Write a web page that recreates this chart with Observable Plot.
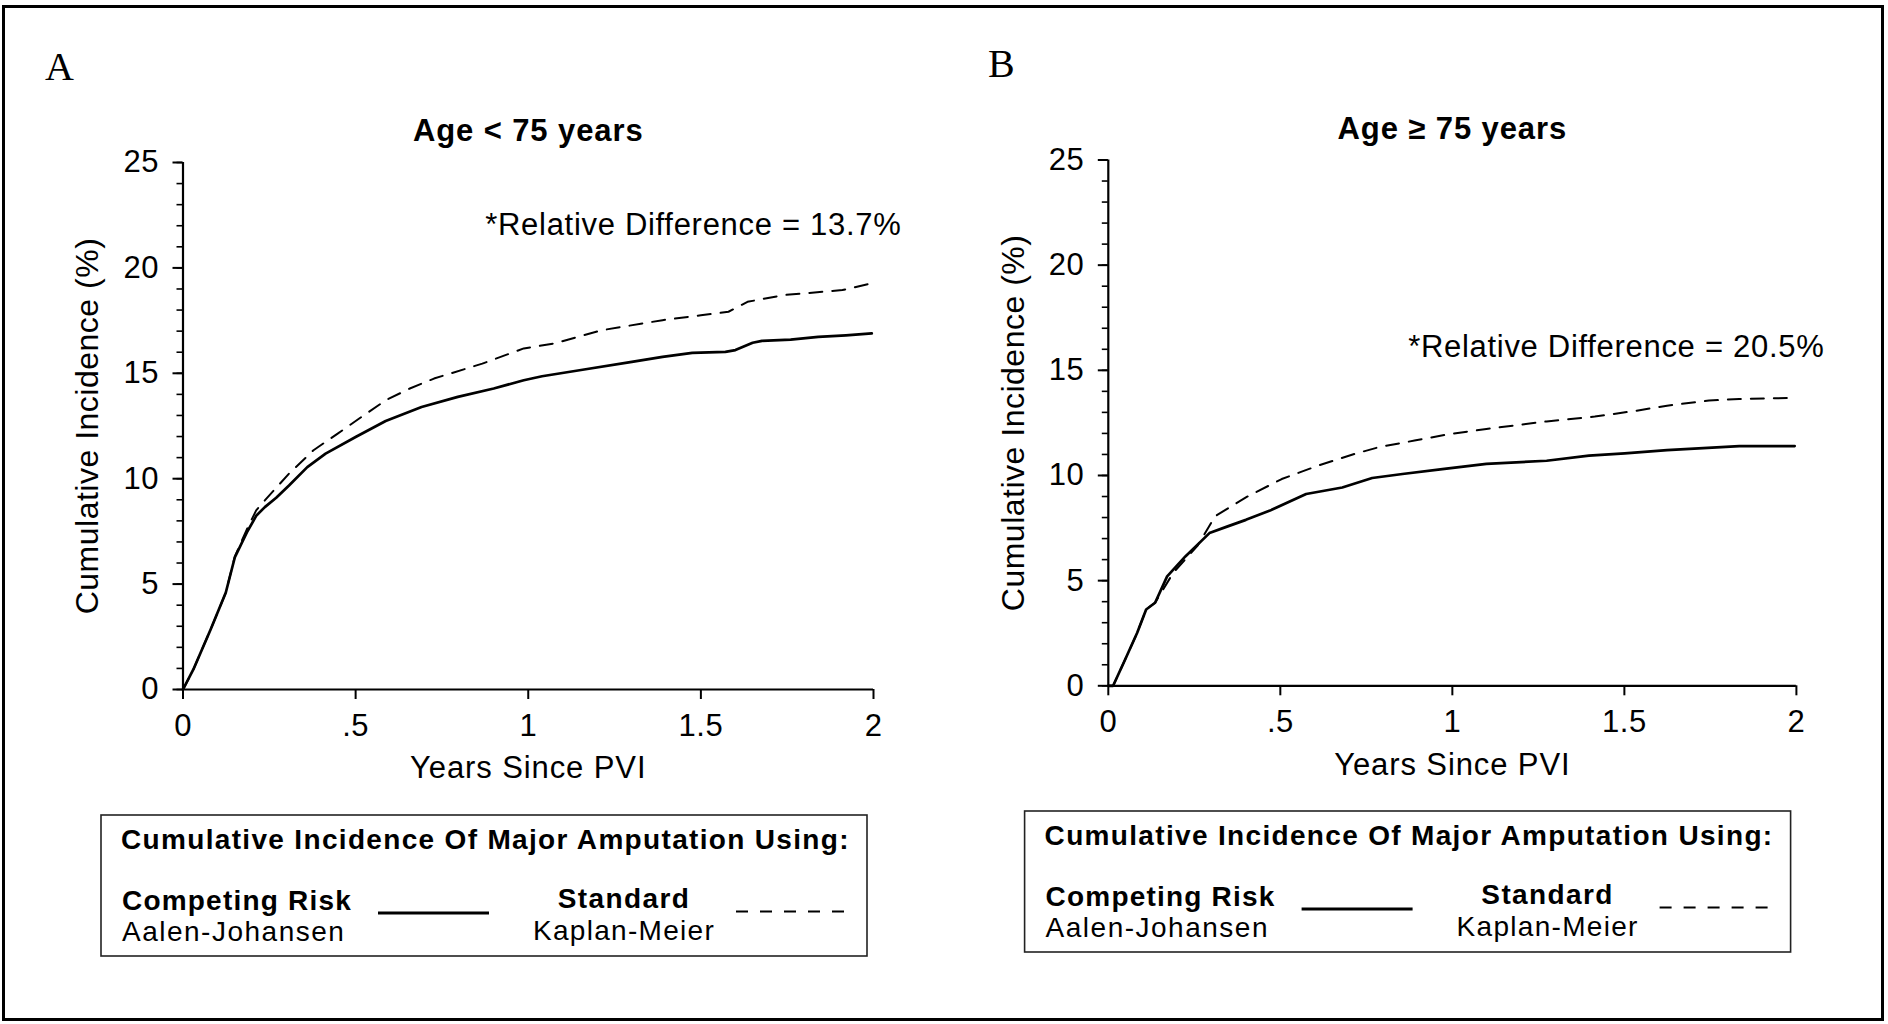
<!DOCTYPE html>
<html>
<head>
<meta charset="utf-8">
<script src="https://cdn.jsdelivr.net/npm/d3@7"></script>
<script src="https://cdn.jsdelivr.net/npm/@observablehq/plot@0.6"></script>
<style>
  html, body { margin: 0; padding: 0; background: #fff; }
  #page { position: relative; width: 1888px; height: 1024px; overflow: hidden; background: #fff; }
  #page svg { position: absolute; }
</style>
</head>
<body>
<div id="page"></div>
<script>
// ---------- text ----------
const panelLetters = ["A", "B"];
const panelTitles = ["Age < 75 years", "Age \u2265 75 years"];
const annotations = ["*Relative Difference = 13.7%", "*Relative Difference = 20.5%"];
const annotationY = [22.05, 16.1];
const xLabel = "Years Since PVI";
const yLabel = "Cumulative Incidence (%)";
const xTicks = [0, 0.5, 1, 1.5, 2];
const xTickLabels = ["0", ".5", "1", "1.5", "2"];
const yMajorTicks = [0, 5, 10, 15, 20, 25];
const yMinorTicks = [0, 1, 2, 3, 4, 5, 6, 7, 8, 9, 10, 11, 12, 13, 14, 15, 16, 17, 18, 19, 20, 21, 22, 23, 24, 25];
const legendTitle = "Cumulative Incidence Of Major Amputation Using:";
const legendBold = ["Competing Risk", "Standard"];
const legendSub = ["Aalen-Johansen", "Kaplan-Meier"];

// ---------- data: Panel A (Age < 75) ----------
const timeA_AJ = [0, 0.03, 0.08, 0.124, 0.15, 0.185, 0.212, 0.237, 0.27, 0.307, 0.36, 0.413, 0.50, 0.587, 0.691, 0.796, 0.90, 0.987, 1.04, 1.162, 1.30, 1.389, 1.475, 1.571, 1.60, 1.65, 1.677, 1.76, 1.84, 1.92, 1.995];
const incA_AJ  = [0, 0.95, 2.85, 4.6, 6.26, 7.45, 8.24, 8.65, 9.1, 9.68, 10.55, 11.19, 11.98, 12.74, 13.40, 13.88, 14.28, 14.67, 14.86, 15.18, 15.54, 15.78, 15.97, 16.02, 16.1, 16.45, 16.54, 16.6, 16.73, 16.8, 16.89];
const timeA_KM = [0, 0.03, 0.08, 0.124, 0.15, 0.185, 0.212, 0.237, 0.307, 0.378, 0.448, 0.517, 0.587, 0.657, 0.727, 0.867, 0.987, 1.076, 1.215, 1.389, 1.50, 1.58, 1.635, 1.74, 1.91, 1.995];
const incA_KM  = [0, 0.95, 2.85, 4.6, 6.3, 7.6, 8.5, 8.97, 10.24, 11.35, 12.14, 12.93, 13.72, 14.28, 14.75, 15.46, 16.18, 16.42, 17.05, 17.52, 17.75, 17.92, 18.39, 18.71, 18.95, 19.27];

// ---------- data: Panel B (Age >= 75) ----------
const timeB_AJ = [0, 0.014, 0.049, 0.084, 0.11, 0.136, 0.171, 0.224, 0.294, 0.347, 0.40, 0.47, 0.575, 0.68, 0.767, 0.855, 0.977, 1.099, 1.274, 1.397, 1.501, 1.624, 1.834, 1.995];
const incB_AJ  = [0, 0, 1.25, 2.52, 3.63, 3.95, 5.2, 6.15, 7.26, 7.58, 7.89, 8.33, 9.12, 9.43, 9.88, 10.07, 10.31, 10.55, 10.70, 10.94, 11.05, 11.21, 11.4, 11.4];
const timeB_KM = [0, 0.014, 0.049, 0.084, 0.11, 0.136, 0.189, 0.259, 0.311, 0.40, 0.504, 0.61, 0.715, 0.785, 0.89, 0.993, 1.099, 1.274, 1.414, 1.536, 1.624, 1.746, 1.834, 1.995];
const incB_KM  = [0, 0, 1.25, 2.52, 3.63, 3.95, 5.38, 6.65, 8.07, 8.96, 9.83, 10.47, 11.02, 11.34, 11.66, 11.97, 12.21, 12.57, 12.80, 13.08, 13.32, 13.56, 13.64, 13.69];

const series = [
  {aj: [timeA_AJ, incA_AJ], km: [timeA_KM, incA_KM]},
  {aj: [timeB_AJ, incB_AJ], km: [timeB_KM, incB_KM]}
];

// ---------- layout ----------
const FONT = '"Liberation Sans", Arial, Helvetica, sans-serif';
const panelLayout = [
  {left: 0,   marginLeft: 182.5, marginRight: 71,   marginTop: 162,   marginBottom: 111},
  {left: 944, marginLeft: 163.8, marginRight: 92.1, marginTop: 159.5, marginBottom: 114.7}
];

const page = document.getElementById("page");
const toRows = ([t, v]) => t.map((d, i) => ({t: d, v: v[i]}));

panelLayout.forEach((L, i) => {
  const aj = toRows(series[i].aj);
  const km = toRows(series[i].km);
  const svg = Plot.plot({
    width: 944,
    height: 800,
    marginLeft: L.marginLeft,
    marginRight: L.marginRight,
    marginTop: L.marginTop,
    marginBottom: L.marginBottom,
    x: {domain: [0, 2]},
    y: {domain: [0, 25]},
    style: {fontFamily: FONT, color: "#000", background: "none", overflow: "visible", letterSpacing: "0.5px"},
    marks: [
      Plot.axisY(yMinorTicks, {tickSize: 6, strokeWidth: 1.6, tickFormat: () => "", label: null}),
      Plot.axisY(yMajorTicks, {tickSize: 10, tickPadding: 14, fontSize: 31, strokeWidth: 2, label: null}),
      Plot.axisX(xTicks, {tickSize: 10, tickPadding: 14, fontSize: 31, strokeWidth: 2, label: null,
        tickFormat: d => xTickLabels[xTicks.indexOf(d)]}),
      Plot.ruleX([0], {strokeWidth: 2.2}),
      Plot.ruleY([0], {strokeWidth: 2.2}),
      Plot.line(km, {x: "t", y: "v", stroke: "#000", strokeWidth: 2, strokeDasharray: "13,10"}),
      Plot.line(aj, {x: "t", y: "v", stroke: "#000", strokeWidth: 2.7}),
      Plot.text([panelTitles[i]], {frameAnchor: "top", lineAnchor: "middle", dy: -31, fontSize: 31, fontWeight: "bold"}),
      Plot.text([yLabel], {frameAnchor: "left", textAnchor: "middle", lineAnchor: "middle", rotate: -90, dx: -95, fontSize: 32}),
      Plot.text([xLabel], {frameAnchor: "bottom", lineAnchor: "middle", dy: 79, fontSize: 31}),
      Plot.text([{x: 2, y: annotationY[i], label: annotations[i]}],
        {x: "x", y: "y", text: "label", textAnchor: "end", lineAnchor: "middle", dx: 28, fontSize: 31})
    ]
  });
  svg.style.left = L.left + "px";
  svg.style.top = "0px";
  page.appendChild(svg);
  const sel = d3.select(svg).selectAll("text");
  sel.filter(function () { return this.textContent === panelTitles[i]; }).attr("letter-spacing", "0.9px");
  sel.filter(function () { return this.textContent === annotations[i]; }).attr("letter-spacing", "0.7px");
  sel.filter(function () { return this.textContent === xLabel; }).attr("letter-spacing", "0.9px");
});

// ---------- overlay: border, panel letters, legends ----------
const overlay = d3.create("svg")
  .attr("width", 1888).attr("height", 1024)
  .style("left", "0px").style("top", "0px")
  .style("pointer-events", "none");

overlay.append("rect")
  .attr("x", 3.5).attr("y", 6.5).attr("width", 1879).attr("height", 1013)
  .attr("fill", "none").attr("stroke", "#000").attr("stroke-width", 3);

const letterPos = [{x: 45, y: 80}, {x: 988, y: 77}];
panelLetters.forEach((L, i) => {
  overlay.append("text")
    .attr("x", letterPos[i].x).attr("y", letterPos[i].y)
    .attr("font-family", '"Liberation Serif", "Times New Roman", serif')
    .attr("font-size", 40).text(L);
});

const legendPos = [{x: 101, y: 815}, {x: 1024.6, y: 811}];
legendPos.forEach(p => {
  const g = overlay.append("g")
    .attr("transform", `translate(${p.x},${p.y})`)
    .attr("font-family", FONT).attr("font-size", 28).attr("fill", "#000");
  g.append("rect").attr("x", 0).attr("y", 0).attr("width", 766).attr("height", 141)
    .attr("fill", "none").attr("stroke", "#222").attr("stroke-width", 1.6);
  g.append("text").attr("x", 20).attr("y", 33.5).attr("font-weight", "bold")
    .attr("letter-spacing", "1.33px").text(legendTitle);
  g.append("text").attr("x", 21).attr("y", 94.5).attr("font-weight", "bold")
    .attr("letter-spacing", "1.2px").text(legendBold[0]);
  g.append("text").attr("x", 21).attr("y", 126)
    .attr("letter-spacing", "1.5px").text(legendSub[0]);
  g.append("line").attr("x1", 277).attr("x2", 388).attr("y1", 98).attr("y2", 98)
    .attr("stroke", "#000").attr("stroke-width", 3);
  g.append("text").attr("x", 523).attr("y", 93).attr("font-weight", "bold")
    .attr("text-anchor", "middle").attr("letter-spacing", "1.4px").text(legendBold[1]);
  g.append("text").attr("x", 523).attr("y", 124.5)
    .attr("text-anchor", "middle").attr("letter-spacing", "1.3px").text(legendSub[1]);
  g.append("line").attr("x1", 635).attr("x2", 747).attr("y1", 96.5).attr("y2", 96.5)
    .attr("stroke", "#000").attr("stroke-width", 2).attr("stroke-dasharray", "12,12");
});

page.appendChild(overlay.node());
</script>
</body>
</html>
